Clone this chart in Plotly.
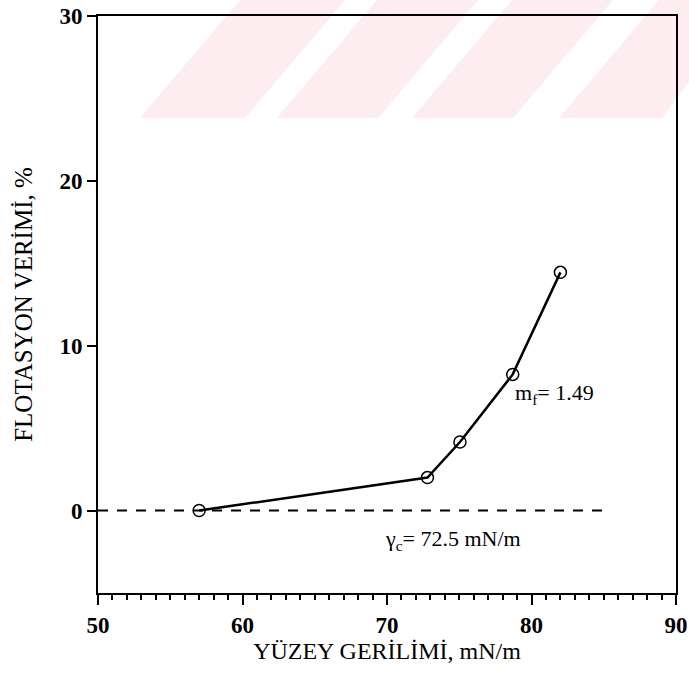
import plotly.graph_objects as go

# Measured flotation recovery versus liquid surface tension
surface_tension = [57.0, 72.8, 75.05, 78.7, 82.0]   # mN/m
recovery = [0.0, 2.0, 4.16, 8.26, 14.45]            # %

# Zero-recovery reference line
zero_line_x = [50, 85]
zero_line_y = [0, 0]

x_labelled = [50, 60, 70, 80, 90]
x_half = [55, 65, 75, 85]
y_major = [0, 10, 20, 30]

W, H = 689, 675
M_L, M_R, M_T, M_B = 98, 13, 16, 82
PW, PH = W - M_L - M_R, H - M_T - M_B

def px_to_paper(px, py):
    return (px - M_L) / PW, (H - M_B - py) / PH

# faint pink diagonal band along the top of the page
band_bottom, band_top = 118, 0
shear = 100
stripes = [(140, 245), (277, 378), (412, 513), (559, 662)]
shapes = []
for x0, x1 in stripes:
    pts = [(x0, band_bottom), (x1, band_bottom),
           (min(x1 + shear, W + 60), band_top), (x0 + shear, band_top)]
    path = ""
    for i, (a, b) in enumerate(pts):
        u, v = px_to_paper(a, b)
        path += ("M" if i == 0 else "L") + f"{u:.4f},{v:.4f} "
    path += "Z"
    shapes.append(dict(type="path", path=path, xref="paper", yref="paper",
                       fillcolor="rgb(253,236,240)", line=dict(width=0),
                       layer="below"))

serif = "Liberation Serif, Times New Roman, serif"

fig = go.Figure()
fig.add_trace(go.Scatter(
    x=zero_line_x, y=zero_line_y, mode="lines",
    line=dict(color="black", width=2, dash="10px,9px"),
    hoverinfo="skip", showlegend=False))
fig.add_trace(go.Scatter(
    x=surface_tension, y=recovery, mode="lines+markers",
    line=dict(color="black", width=2.5),
    marker=dict(symbol="circle-open", size=12, color="black",
                line=dict(width=1.5, color="black")),
    showlegend=False))

fig.add_annotation(x=78.7, y=7.1, xref="x", yref="y",
                   text="m<sub>f</sub>= 1.49", showarrow=False,
                   xanchor="left", yanchor="middle",
                   font=dict(family=serif, size=22, color="black"))
fig.add_annotation(x=69.7, y=-1.8, xref="x", yref="y",
                   text="γ<sub>c</sub>= 72.5 mN/m", showarrow=False,
                   xanchor="left", yanchor="middle",
                   font=dict(family=serif, size=22, color="black"))

fig.update_layout(
    width=W, height=H,
    margin=dict(l=M_L, r=M_R, t=M_T, b=M_B, autoexpand=False),
    paper_bgcolor="white", plot_bgcolor="rgba(0,0,0,0)",
    font=dict(family=serif, color="black"),
    shapes=shapes,
    xaxis=dict(
        range=[50, 90], tickvals=x_labelled,
        ticks="outside", ticklen=10, tickwidth=2, tickcolor="black",
        minor=dict(dtick=1, ticks="outside", ticklen=5, tickwidth=1.5,
                   tickcolor="black", showgrid=False),
        showline=True, linecolor="black", linewidth=2, mirror=True,
        showgrid=False, zeroline=False,
        tickfont=dict(family=serif, size=23, color="black", weight="bold"),
        title=dict(text="YÜZEY GERİLİMİ, mN/m", standoff=0,
                   font=dict(family=serif, size=24, color="black")),
    ),
    # unlabelled long ticks at the half-decades
    xaxis2=dict(
        range=[50, 90], overlaying="x", side="bottom", anchor="y",
        tickvals=x_half, ticks="outside", ticklen=10, tickwidth=2,
        tickcolor="black", showticklabels=False, showline=False,
        showgrid=False, zeroline=False,
    ),
    yaxis=dict(
        range=[-5, 30], tickvals=y_major,
        ticks="outside", ticklen=9, tickwidth=2, tickcolor="black",
        showline=True, linecolor="black", linewidth=2, mirror=True,
        showgrid=False, zeroline=False,
        tickfont=dict(family=serif, size=23, color="black", weight="bold"),
        title=dict(text="FLOTASYON VERİMİ, %", standoff=20,
                   font=dict(family=serif, size=25, color="black")),
    ),
)

fig.write_html("out.html")
